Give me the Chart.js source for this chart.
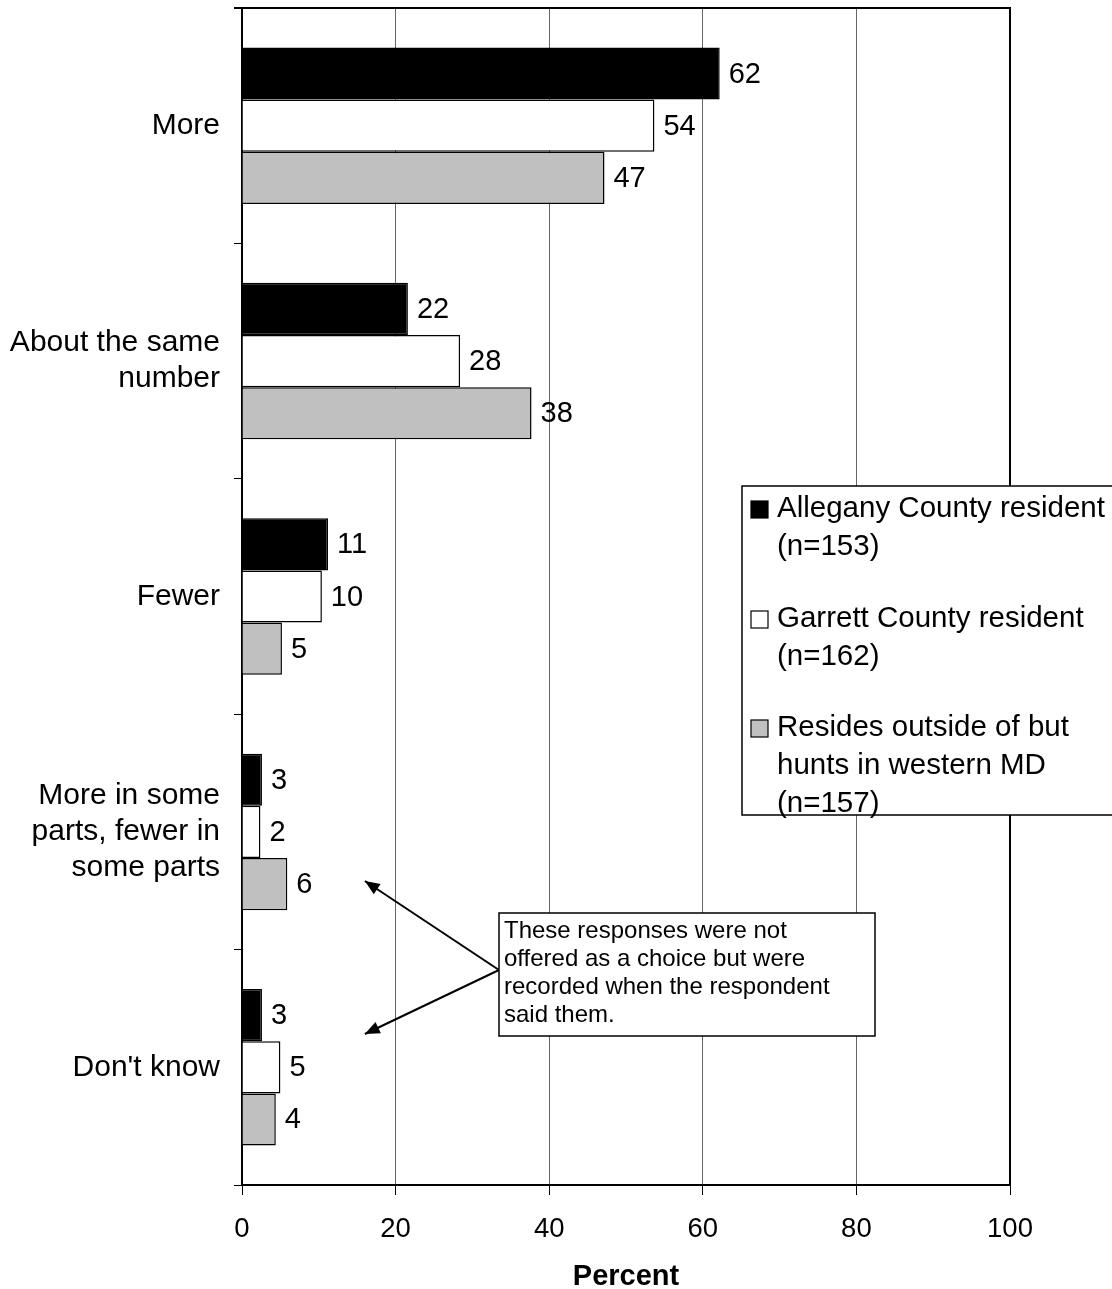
<title>Deer numbers by residence</title>
<script src=https://cdn.jsdelivr.net/npm/chart.js@4/dist/chart.umd.min.js></script>
<style>body{margin:0;background:#fff}</style>
<canvas id="myChart" width="1112" height="1289"></canvas>
<script>
var categories = [['More'], ['About the same', 'number'], ['Fewer'], ['More in some', 'parts, fewer in', 'some parts'], ["Don't know"]];
var allegany = [62.2, 21.6, 11.2, 2.6, 2.6];
var garrett = [53.7, 28.4, 10.4, 2.4, 5.0];
var outside = [47.2, 37.7, 5.2, 5.9, 4.4];
var seriesNames = [['Allegany County resident', '(n=153)'], ['Garrett County resident', '(n=162)'], ['Resides outside of but', 'hunts in western MD', '(n=157)']];
var xTicks = [0, 20, 40, 60, 80, 100];
var note = ['These responses were not', 'offered as a choice but were', 'recorded when the respondent', 'said them.'];

var FONT = 'Liberation Sans, Arial, sans-serif';
Chart.defaults.font.family = FONT;
Chart.defaults.color = '#000';

var extras = {
  id: 'extras',
  afterDatasetsDraw: function(chart){
    var c = chart.ctx, a = chart.chartArea;
    c.save();
    // value labels
    c.font = '29px ' + FONT; c.fillStyle = '#000'; c.textBaseline = 'middle'; c.textAlign = 'left';
    chart.data.datasets.forEach(function(ds, i){
      chart.getDatasetMeta(i).data.forEach(function(bar, j){
        c.fillText(Math.round(ds.data[j]), bar.x + 9, bar.y + 1);
      });
    });
    // frame top / right
    c.strokeStyle = '#000'; c.lineWidth = 2;
    c.beginPath(); c.moveTo(a.left - 8, a.top); c.lineTo(a.right, a.top); c.lineTo(a.right, a.bottom); c.stroke();
    // legend box
    var lx = 742, ly = 486, lw = 372, lh = 329;
    c.fillStyle = '#fff'; c.fillRect(lx, ly, lw, lh);
    c.lineWidth = 1.5; c.strokeRect(lx, ly, lw, lh);
    var fills = ['#000', '#fff', '#c0c0c0'];
    var starts = [509, 619, 728];
    c.font = '29.5px ' + FONT; c.textBaseline = 'middle';
    seriesNames.forEach(function(lines, i){
      c.fillStyle = fills[i]; c.fillRect(751, starts[i] - 8, 17, 17);
      c.strokeStyle = '#000'; c.lineWidth = 1.2; c.strokeRect(751, starts[i] - 8, 17, 17);
      c.fillStyle = '#000';
      lines.forEach(function(t, k){ c.fillText(t, 777, starts[i] + k * 38); });
    });
    // note box and arrows
    var x16 = chart.scales.x.getPixelForValue(16);
    var nx = 499, ny = 913, nw = 376, nh = 123;
    function arrow(x0, y0, x1, y1){
      c.strokeStyle = '#000'; c.fillStyle = '#000'; c.lineWidth = 2;
      c.beginPath(); c.moveTo(x0, y0); c.lineTo(x1, y1); c.stroke();
      var ang = Math.atan2(y1 - y0, x1 - x0), L = 16, W = 0.4;
      c.beginPath(); c.moveTo(x1, y1);
      c.lineTo(x1 - L * Math.cos(ang - W), y1 - L * Math.sin(ang - W));
      c.lineTo(x1 - L * Math.cos(ang + W), y1 - L * Math.sin(ang + W));
      c.closePath(); c.fill();
    }
    arrow(nx, 970, x16, 881);
    arrow(nx, 970, x16, 1034);
    c.fillStyle = '#fff'; c.fillRect(nx, ny, nw, nh);
    c.strokeStyle = '#000'; c.lineWidth = 1.5; c.strokeRect(nx, ny, nw, nh);
    c.fillStyle = '#000'; c.font = '24px ' + FONT; c.textBaseline = 'middle';
    note.forEach(function(t, k){ c.fillText(t, nx + 5, 931 + k * 28); });
    c.restore();
  }
};

var ctx = document.getElementById('myChart');
var myChart = new Chart(ctx, {
  type: 'bar',
  data: {
    labels: categories,
    datasets: [
      {label: seriesNames[0].join(' '), data: allegany, backgroundColor: '#000', borderColor: '#000', borderWidth: 1.5},
      {label: seriesNames[1].join(' '), data: garrett, backgroundColor: '#fff', borderColor: '#000', borderWidth: 1.5},
      {label: seriesNames[2].join(' '), data: outside, backgroundColor: '#c0c0c0', borderColor: '#000', borderWidth: 1.5}
    ]
  },
  options: {
    indexAxis: 'y',
    responsive: false,
    animation: false,
    categoryPercentage: 0.665,
    barPercentage: 1,
    layout: {autoPadding: false, padding: {top: 8, right: 102, left: 0, bottom: 0}},
    plugins: {legend: {display: false}, tooltip: {enabled: false}},
    scales: {
      x: {
        min: 0, max: 100,
        afterBuildTicks: function(s){ s.ticks = xTicks.map(function(v){ return {value: v}; }); },
        afterFit: function(s){ s.height = 104; },
        grid: {color: '#666', lineWidth: 1, tickLength: 10, tickColor: '#000'},
        border: {color: '#000', width: 2},
        ticks: {font: {size: 27.5}, padding: 18, color: '#000'},
        title: {display: true, text: 'Percent', font: {size: 29, weight: 'bold'}, padding: {top: 0, bottom: -5}}
      },
      y: {
        afterFit: function(s){ s.width = 242; s.paddingTop = 0; s.paddingBottom = 0; },
        grid: {drawOnChartArea: false, offset: true, tickLength: 8, color: '#000'},
        border: {color: '#000', width: 2},
        ticks: {font: {size: 30, lineHeight: 1.2}, padding: 14, color: '#000'}
      }
    }
  },
  plugins: [extras]
});
</script>
